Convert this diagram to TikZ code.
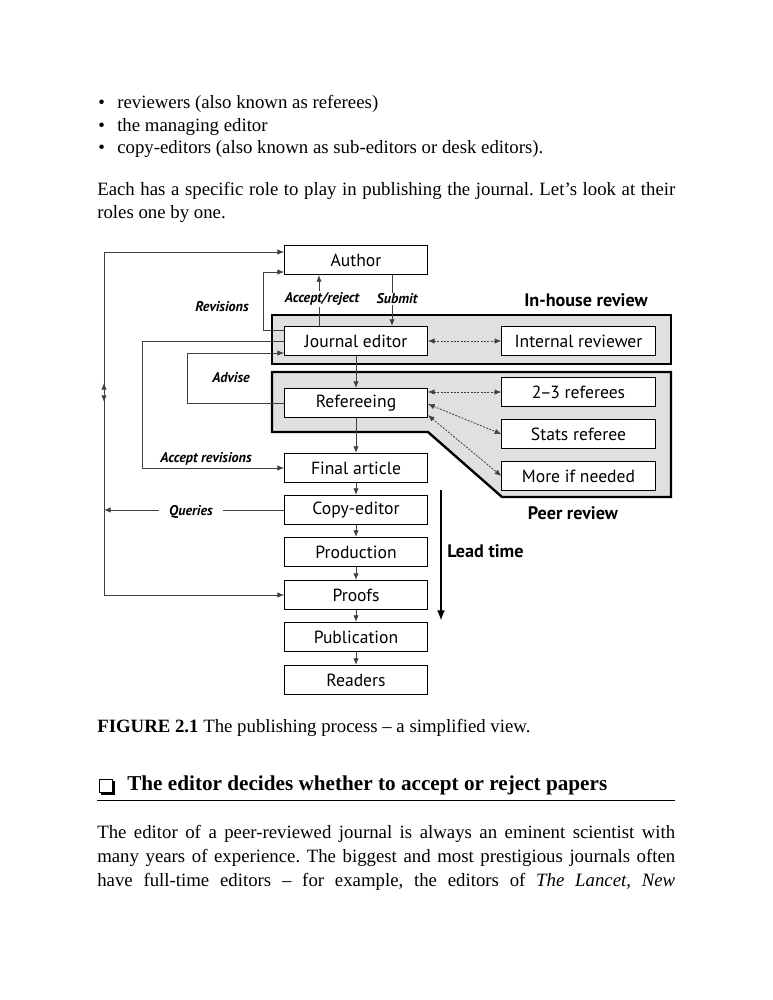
\documentclass[tikz,border=0pt]{standalone}
\usepackage{fontspec}
\setmainfont{Liberation Serif}
\newfontfamily\boxfont{PT Sans}
\usetikzlibrary{arrows.meta,positioning,calc}
\frenchspacing

\begin{document}
\begin{tikzpicture}[x=0.75pt,y=-0.75pt]
      \tikzstyle{stage} = [draw,line width=0.8pt,fill=white,minimum width=107pt,minimum height=21.75pt,inner sep=0pt,font=\boxfont\fontsize{13.2}{14}\selectfont]
      \tikzstyle{reviewer} = [stage,minimum width=115pt]
      \tikzstyle{flow} = [draw=black!75,line width=0.6pt,-{Latex[length=5pt,width=4pt]}]
      \tikzstyle{link} = [draw=black!75,line width=0.6pt,dashed,dash pattern=on 1.5pt off 1pt,{Latex[length=5pt,width=4pt]}-{Latex[length=5pt,width=4pt]}]
      \tikzstyle{tag} = [inner sep=1pt,font=\boxfont\bfseries\itshape\fontsize{10.6}{12}\selectfont]
      \tikzstyle{heading} = [inner sep=0pt,font=\boxfont\bfseries\fontsize{13.6}{15}\selectfont]
      \tikzstyle{region} = [draw,line width=1.8pt,fill=black!12,line join=miter]
      \tikzstyle{body} = [anchor=base west,inner sep=0pt,font=\fontsize{14.1}{17}\selectfont]
      %
      \useasboundingbox (0,0) rectangle (772,1000);
      % Text above the figure.
      \foreach \y/\txt in {108/reviewers (also known as referees),
                           131/the managing editor,
                           153/copy-editors (also known as sub-editors or desk editors).} {
        \node[body] at (98,\y) {\textbullet};
        \node[body] at (117,\y) {\txt};
      }
      \node[body] (each) at (97,195) {\makebox[433.5pt][s]{Each has a specific role to play in publishing the journal. Let’s look at their}};
      \node[body] (roles) at (97,218) {roles one by one.};
      %
      % Grey review regions.
      \draw[region] (272,315) rectangle (671,364);
      \draw[region] (272,372) -- (671,372) -- (671,497) -- (502,497) -- (428,432) -- (272,432) -- cycle;
      \node[heading] (inhouse) at (586,300) {In-house review};
      \node[heading] (peer) at (573,513) {Peer review};
      %
      % Main column.
      \node[stage] (author) at (356,260) {Author};
      \node[stage] (editor) at (356,341) {Journal editor};
      \node[stage] (refereeing) at (356,403) {Refereeing};
      \node[stage] (final) at (356,468) {Final article};
      \node[stage] (copyed) at (356,510) {Copy-editor};
      \node[stage] (production) at (356,552) {Production};
      \node[stage] (proofs) at (356,595) {Proofs};
      \node[stage] (publication) at (356,637) {Publication};
      \node[stage] (readers) at (356,680) {Readers};
      % Reviewers.
      \node[reviewer] (internal) at (578.5,341) {Internal reviewer};
      \node[reviewer] (referees) at (578.5,392) {2\kern-1pt–\kern-1pt3 referees};
      \node[reviewer] (stats) at (578.5,434) {Stats referee};
      \node[reviewer] (more) at (578.5,476) {More if needed};
      %
      % Draw lines.
      \draw[flow] ($(editor.north)+(-37,0)$) -- ($(author.south)+(-37,0)$);
      \draw[flow] ($(author.south)+(36,0)$) -- ($(editor.north)+(36,0)$);
      \draw[flow] (editor) -- (refereeing);
      \draw[flow] (refereeing) -- (final);
      \draw[flow] (final) -- (copyed);
      \draw[flow] (copyed) -- (production);
      \draw[flow] (production) -- (proofs);
      \draw[flow] (proofs) -- (publication);
      \draw[flow] (publication) -- (readers);
      \draw[flow] ($(editor.west)+(0,-11)$) -- ++(-21,0) |- ($(author.west)+(0,12)$);
      \draw[flow] (editor.west) -- ++(-142,0) |- (final.west);
      \draw[flow] (refereeing.west) -- ++(-97,0) |- ($(editor.west)+(0,12)$);
      \coordinate (qhub) at (104,510);
      \draw[flow] (copyed.west) -- (qhub);
      \draw[flow] (qhub) |- ($(author.west)+(0,-8)$);
      \draw[flow] (qhub) |- (proofs.west);
      \draw[flow] (104,391) -- ++(0,-8);
      \draw[flow] (104,394) -- ++(0,8);
      \draw[link] (editor.east) -- (internal.west);
      \draw[link] ($(refereeing.east)+(0,-11)$) -- (referees.west);
      \draw[link] ($(refereeing.east)+(0,1)$) -- (stats.west);
      \draw[link] ($(refereeing.east)+(0,12)$) -- (more.west);
      % Labels on lines.
      \node[tag,fill=white] at (322,299) {Accept/reject};
      \node[tag,fill=white] at (397,299) {Submit};
      \node[tag] at (222,307) {Revisions};
      \node[tag] at (231,378) {Advise};
      \node[tag] at (206,459) {Accept revisions};
      \node[tag,fill=white,inner xsep=8pt] at (191,512) {Queries};
      % Lead time.
      \coordinate (leadtop) at (441,490);
      \coordinate (leadend) at (441,621);
      \draw[line width=1.8pt,-{Latex[length=8pt,width=6pt]}] (leadtop) -- (leadend);
      \node[heading,anchor=west] (lead) at (447,551) {Lead time};
      %
      % Caption and following text.
      \node[body] (caption) at (97,732) {\textbf{FIGURE 2.1} The publishing process – a simplified view.};
      \draw[line width=0.5pt,fill=white] (99.5,779) rectangle (112,792);
      \draw[line width=1.8pt] (101,794) -- (114,794) -- (114,781);
      \node[body,font=\bfseries\fontsize{15.9}{18}\selectfont] (sect) at (127,790) {The editor decides whether to accept or reject papers};
      \draw[line width=0.6pt] (97,800) -- (675,800);
      \node[body] at (97,838) {\makebox[433.5pt][s]{The editor of a peer-reviewed journal is always an eminent scientist with}};
      \node[body] at (97,862) {\makebox[433.5pt][s]{many years of experience. The biggest and most prestigious journals often}};
      \node[body] at (97,886) {\makebox[433.5pt][s]{have full-time editors – for example, the editors of \textit{The Lancet, New}}};
\end{tikzpicture}
\end{document}
